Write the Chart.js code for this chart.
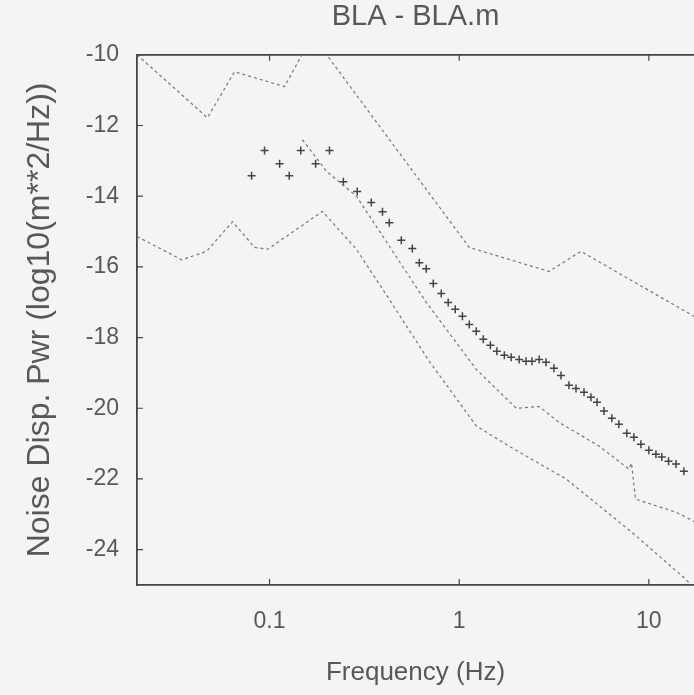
<!DOCTYPE html>
<html>
<head>
<meta charset="utf-8">
<script src="https://cdn.jsdelivr.net/npm/chart.js@4/dist/chart.umd.min.js"></script>
<style>
  html, body { margin: 0; padding: 0; background: #f4f4f4; }
  #wrap { width: 694px; height: 695px; }
</style>
</head>
<body>
<div id="wrap"><canvas id="psd" width="694" height="695"></canvas></div>
<script>
// measured spectrum (+ markers)
const measFreq = [0.0804, 0.0941, 0.113, 0.127, 0.146, 0.175, 0.207, 0.245, 0.290, 0.344,
  0.394, 0.428, 0.495, 0.566, 0.616, 0.670, 0.730, 0.804, 0.875, 0.953,
  1.04, 1.13, 1.23, 1.34, 1.46, 1.58, 1.73, 1.88, 2.07, 2.25,
  2.42, 2.64, 2.87, 3.16, 3.44, 3.79, 4.13, 4.55, 4.95, 5.33,
  5.80, 6.38, 6.95, 7.65, 8.34, 9.08, 10.0, 10.9, 11.7, 12.7, 13.9, 15.3];
const measPwr = [-13.42, -12.71, -13.08, -13.42, -12.71, -13.08, -12.71, -13.59, -13.87, -14.18,
  -14.44, -14.75, -15.25, -15.48, -15.88, -16.05, -16.47, -16.75, -17.01, -17.20,
  -17.40, -17.63, -17.82, -18.05, -18.22, -18.39, -18.50, -18.56, -18.62, -18.67,
  -18.67, -18.62, -18.70, -18.87, -19.07, -19.35, -19.44, -19.55, -19.69, -19.83,
  -20.08, -20.28, -20.45, -20.71, -20.82, -21.02, -21.19, -21.30, -21.38, -21.50, -21.58, -21.78];

// upper bound (dashed)
const highFreq = [0.02, 0.047, 0.0654, 0.12, 0.148, 0.2, 1.13, 2.98, 4.38, 17.3];
const highPwr = [-10.0, -11.78, -10.48, -10.9, -10.0, -10.0, -15.45, -16.13, -15.56, -17.4];

// middle reference (dashed)
const midFreq = [0.149, 0.2, 0.287, 0.67, 1.23, 2.0, 2.64, 3.36, 5.46, 7.85, 8.1, 8.5, 13.9, 17.3];
const midPwr = [-12.4, -13.3, -14.0, -17.0, -18.9, -20.0, -19.95, -20.4, -21.07, -21.72, -21.55, -22.57, -22.94, -23.2];

// lower bound (dashed)
const lowFreq = [0.02, 0.0344, 0.0466, 0.0638, 0.0834, 0.098, 0.19, 0.287, 0.428, 0.695, 1.23, 1.83, 3.66, 8.1, 15.6, 17.3];
const lowPwr = [-15.14, -15.8, -15.56, -14.72, -15.45, -15.5, -14.43, -15.5, -16.92, -18.67, -20.5, -21.07, -22.0, -23.5, -24.83, -25.1];

const xTicks = [0.1, 1, 10];
const yTicks = [-10, -12, -14, -16, -18, -20, -22, -24];

const toPts = (xs, ys) => xs.map((x, i) => ({ x: x, y: ys[i] }));

const ink = "#585858";
const face = "Liberation Sans";
const dashed = {
  showLine: true,
  borderColor: "#777",
  borderWidth: 1.2,
  borderDash: [3, 3],
  pointRadius: 0,
  fill: false
};

// small tick marks pointing into the plot, like the original
const innerTicks = {
  id: "innerTicks",
  afterDraw(chart) {
    const { ctx, chartArea: a, scales } = chart;
    ctx.save();
    ctx.strokeStyle = "#444";
    ctx.lineWidth = 1.2;
    ctx.beginPath();
    yTicks.forEach(v => {
      const py = scales.y.getPixelForValue(v);
      ctx.moveTo(a.left, py);
      ctx.lineTo(a.left + 6, py);
    });
    xTicks.forEach(v => {
      const px = scales.x.getPixelForValue(v);
      ctx.moveTo(px, a.bottom);
      ctx.lineTo(px, a.bottom - 6);
      ctx.moveTo(px, a.top);
      ctx.lineTo(px, a.top + 6);
    });
    ctx.stroke();
    ctx.restore();
  }
};

new Chart(document.getElementById("psd"), {
  type: "scatter",
  data: {
    datasets: [
      { ...dashed, data: toPts(highFreq, highPwr) },
      { ...dashed, data: toPts(midFreq, midPwr) },
      { ...dashed, data: toPts(lowFreq, lowPwr) },
      {
        data: toPts(measFreq, measPwr),
        showLine: false,
        pointStyle: "cross",
        pointRadius: 4,
        borderColor: "#444",
        borderWidth: 1.5
      }
    ]
  },
  plugins: [innerTicks],
  options: {
    responsive: false,
    animation: false,
    devicePixelRatio: 1,
    layout: { autoPadding: false, padding: 0 },
    plugins: {
      legend: { display: false },
      tooltip: { enabled: false },
      title: {
        display: true,
        fullSize: false,
        text: "BLA - BLA.m",
        color: ink,
        font: { family: face, size: 29, weight: "normal" },
        padding: { top: 0, bottom: 20 }
      }
    },
    scales: {
      x: {
        type: "logarithmic",
        min: 0.02,
        max: 17.3,
        afterBuildTicks: s => { s.ticks = xTicks.map(v => ({ value: v })); },
        afterFit: s => { s.height = 110; },
        ticks: {
          color: ink,
          font: { family: face, size: 23 },
          padding: 23,
          maxRotation: 0,
          callback: v => String(v)
        },
        grid: { drawOnChartArea: false, drawTicks: false },
        border: { color: "#444", width: 1.8 },
        title: {
          display: true,
          text: "Frequency (Hz)",
          color: ink,
          font: { family: face, size: 26 },
          padding: { top: 0, bottom: 7 }
        }
      },
      xTop: {
        type: "logarithmic",
        position: "top",
        min: 0.02,
        max: 17.3,
        afterFit: s => { s.height = 0; },
        ticks: { display: false },
        grid: { display: false },
        border: { color: "#444", width: 1.8 }
      },
      y: {
        min: -25,
        max: -10,
        afterBuildTicks: s => { s.ticks = yTicks.map(v => ({ value: v })); },
        afterFit: s => { s.width = 137; },
        ticks: {
          color: ink,
          font: { family: face, size: 23 },
          padding: 18
        },
        grid: { drawOnChartArea: false, drawTicks: false },
        border: { color: "#444", width: 1.8 },
        title: {
          display: true,
          text: "Noise Disp. Pwr (log10(m**2/Hz))",
          color: ink,
          font: { family: face, size: 32 },
          padding: { top: 21, bottom: 0 }
        }
      }
    }
  }
});
</script>
</body>
</html>
